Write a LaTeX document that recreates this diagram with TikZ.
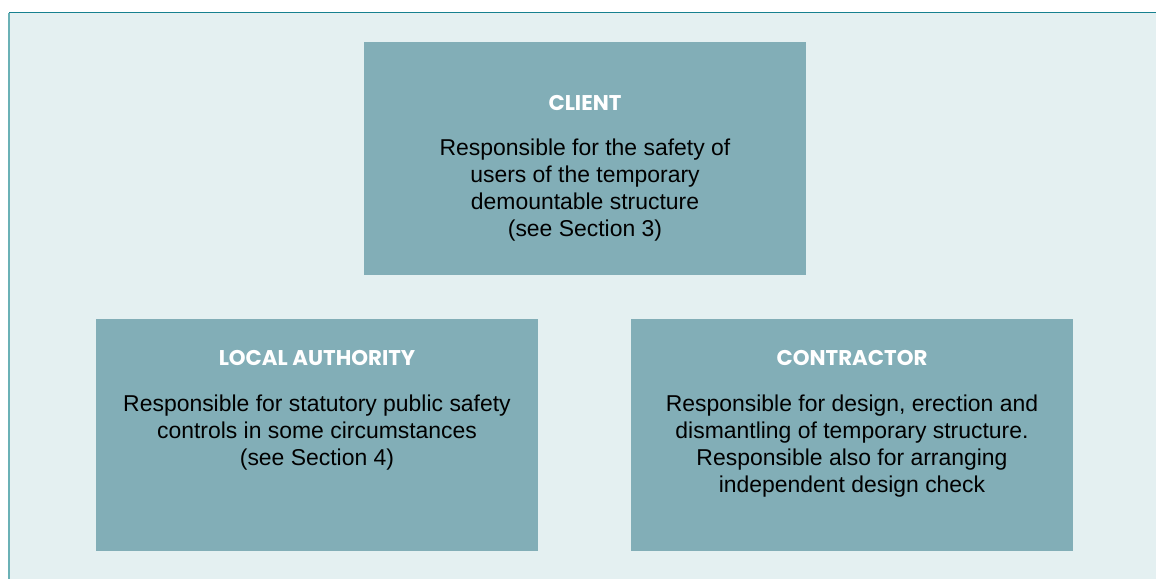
\documentclass[tikz,border=0pt]{standalone}
\usepackage{fontspec}
\setmainfont{Liberation Sans}
\newfontfamily\headfont{Poppins}
\definecolor{boxteal}{HTML}{82AEB7}
\definecolor{paleteal}{HTML}{E4F0F1}
\definecolor{rimteal}{HTML}{16808F}
\definecolor{sideteal}{HTML}{6BB1B6}
\tikzset{
  rolebox/.style={fill=boxteal,draw=none,inner sep=0pt,
    minimum width=331.5pt,minimum height=174.5pt},
  roletitle/.style={text=white,inner sep=0pt,anchor=base,
    font=\headfont\bfseries\fontsize{16}{19}\selectfont},
  roletext/.style={text=black,inner sep=0pt,anchor=base,align=center,
    font=\fontsize{17.2}{20.25}\selectfont}
}
\begin{document}
\begin{tikzpicture}[x=0.75pt,y=-0.75pt]
\useasboundingbox (0,0) rectangle (1156,579);
% panel
\fill[paleteal] (10,13) rectangle (1156,579);
\draw[rimteal,line width=1.3pt] (9,12.5) -- (1156,12.5);
\draw[sideteal,line width=1.5pt] (9,13) -- (9,579);
% boxes
\node[rolebox] (client) at (585,158.5) {};
\node[rolebox] (local) at (317,435) {};
\node[rolebox] (contractor) at (852,435) {};
% titles
\node[roletitle] (clientT) at (585,110) {CLIENT};
\node[roletitle] (localT) at (317,365) {LOCAL AUTHORITY};
\node[roletitle] (contractorT) at (852,365) {CONTRACTOR};
% texts (base = last line)
\node[roletext] (clientX) at (585,236) {Responsible for the safety of\\users of the temporary\\demountable structure\\(see Section 3)};
\node[roletext] (localX) at (317,465) {Responsible for statutory public safety\\controls in some circumstances\\(see Section 4)};
\node[roletext] (contractorX) at (852,492) {Responsible for design, erection and\\dismantling of temporary structure.\\Responsible also for arranging\\independent design check};
\end{tikzpicture}
\end{document}
